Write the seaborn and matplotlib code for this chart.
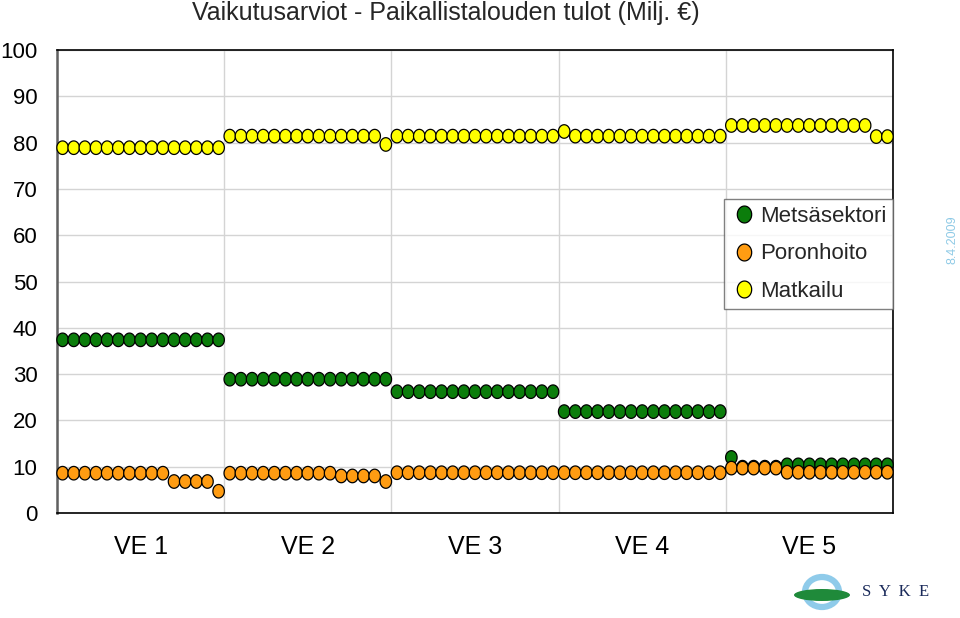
import numpy as np
import pandas as pd
import seaborn as sns
import matplotlib.pyplot as plt
from matplotlib.patches import Ellipse

# values, 15 points per scenario VE 1..VE 5
metsasektori = [
    37.4, 37.4, 37.4, 37.4, 37.4, 37.4, 37.4, 37.4, 37.4, 37.4, 37.4, 37.4, 37.4, 37.4, 37.4,
    28.9, 28.9, 28.9, 28.9, 28.9, 28.9, 28.9, 28.9, 28.9, 28.9, 28.9, 28.9, 28.9, 28.9, 28.9,
    26.2, 26.2, 26.2, 26.2, 26.2, 26.2, 26.2, 26.2, 26.2, 26.2, 26.2, 26.2, 26.2, 26.2, 26.2,
    21.9, 21.9, 21.9, 21.9, 21.9, 21.9, 21.9, 21.9, 21.9, 21.9, 21.9, 21.9, 21.9, 21.9, 21.9,
    12.0, 9.9, 9.9, 9.9, 9.9, 10.4, 10.4, 10.4, 10.4, 10.4, 10.4, 10.4, 10.4, 10.4, 10.4,
]
poronhoito = [
    8.6, 8.6, 8.6, 8.6, 8.6, 8.6, 8.6, 8.6, 8.6, 8.6, 6.8, 6.8, 6.8, 6.8, 4.7,
    8.6, 8.6, 8.6, 8.6, 8.6, 8.6, 8.6, 8.6, 8.6, 8.6, 8.0, 8.0, 8.0, 8.0, 6.8,
    8.7, 8.7, 8.7, 8.7, 8.7, 8.7, 8.7, 8.7, 8.7, 8.7, 8.7, 8.7, 8.7, 8.7, 8.7,
    8.7, 8.7, 8.7, 8.7, 8.7, 8.7, 8.7, 8.7, 8.7, 8.7, 8.7, 8.7, 8.7, 8.7, 8.7,
    9.7, 9.7, 9.7, 9.7, 9.7, 8.8, 8.8, 8.8, 8.8, 8.8, 8.8, 8.8, 8.8, 8.8, 8.8,
]
matkailu = [
    78.9, 78.9, 78.9, 78.9, 78.9, 78.9, 78.9, 78.9, 78.9, 78.9, 78.9, 78.9, 78.9, 78.9, 78.9,
    81.4, 81.4, 81.4, 81.4, 81.4, 81.4, 81.4, 81.4, 81.4, 81.4, 81.4, 81.4, 81.4, 81.4, 79.6,
    81.4, 81.4, 81.4, 81.4, 81.4, 81.4, 81.4, 81.4, 81.4, 81.4, 81.4, 81.4, 81.4, 81.4, 81.4,
    82.4, 81.4, 81.4, 81.4, 81.4, 81.4, 81.4, 81.4, 81.4, 81.4, 81.4, 81.4, 81.4, 81.4, 81.4,
    83.7, 83.7, 83.7, 83.7, 83.7, 83.7, 83.7, 83.7, 83.7, 83.7, 83.7, 83.7, 83.7, 81.3, 81.3,
]
series_names = ['Metsäsektori', 'Poronhoito', 'Matkailu']
scenarios = ['VE 1', 'VE 2', 'VE 3', 'VE 4', 'VE 5']
per_group = 15
colors = ['#0b7d0b', '#ff9c12', '#ffff00']

rows = []
for name, vals in zip(series_names, [metsasektori, poronhoito, matkailu]):
    for i, v in enumerate(vals):
        rows.append({'idx': i, 'arvo': v, 'sarja': name})
df = pd.DataFrame(rows)

sns.set_style('white')
plt.rcParams['font.family'] = ['Liberation Sans', 'DejaVu Sans']

fig = plt.figure(figsize=(9.6, 6.18), dpi=100)
ax = fig.add_axes([57 / 960, 1 - 513 / 618, 836 / 960, 463 / 618])

# slightly tall ellipse like the Excel markers
t = np.linspace(0, 2 * np.pi, 41)
ellipse = np.column_stack([0.85 * np.cos(t), np.sin(t)])

sns.scatterplot(data=df, x='idx', y='arvo', hue='sarja', palette=colors,
                hue_order=series_names, marker=ellipse, s=95,
                edgecolor='black', linewidth=0.9, ax=ax, zorder=3, clip_on=False)

n = len(matkailu)
ax.set_xlim(-0.5, n - 0.5)
ax.set_ylim(0, 100)
ax.set_yticks(np.arange(0, 101, 10))
bounds = np.arange(-0.5, n, per_group)
ax.set_xticks(bounds)
ax.set_xticklabels([])
ax.set_xticks(bounds[:-1] + per_group / 2, minor=True)
ax.set_xticklabels(scenarios, minor=True)
ax.tick_params(axis='x', which='minor', length=0, labelsize=18, pad=16, labelcolor='black')
ax.tick_params(axis='x', which='major', length=10, color='#c8c8c8', width=1)
ax.tick_params(axis='y', length=8, color='#c8c8c8', width=1, labelsize=16, pad=6,
               labelcolor='black')
ax.grid(True, which='major', color='#d4d4d4', linewidth=1)
ax.set_axisbelow(True)
ax.set_xlabel('')
ax.set_ylabel('')
for side in ['top', 'right', 'bottom']:
    ax.spines[side].set_color('black')
    ax.spines[side].set_linewidth(1.2)
ax.spines['left'].set_color('#606060')
ax.spines['left'].set_linewidth(1.8)

handles, labels = ax.get_legend_handles_labels()
leg = ax.legend(handles, labels, loc='upper right', bbox_to_anchor=(1.0, 0.678),
                fontsize=16, frameon=True, fancybox=False, edgecolor='#606060',
                borderpad=0.3, labelspacing=0.75, handletextpad=0.1,
                handlelength=1.2, markerscale=1.25, borderaxespad=0)
leg.get_frame().set_linewidth(1)

fig.text(446 / 960, 1 - 13 / 618, 'Vaikutusarviot - Paikallistalouden tulot (Milj. €)',
         ha='center', va='center', fontsize=18)
fig.text(953 / 960, 1 - 240 / 618, '8.4.2009', rotation=90, ha='center', va='center',
         fontsize=9, color='#8ecae6')

# SYKE logo
ring = Ellipse((822 / 960, 1 - 592 / 618), 34 / 960, 30 / 618, transform=fig.transFigure,
               facecolor='none', edgecolor='#8fcbea', linewidth=4.5)
hill = Ellipse((822 / 960, 1 - 595 / 618), 56 / 960, 12 / 618, transform=fig.transFigure,
               facecolor='#1f8a3a', edgecolor='none')
fig.add_artist(ring)
fig.add_artist(hill)
fig.text(896 / 960, 1 - 592 / 618, 'S  Y  K  E', ha='center', va='center',
         fontsize=12, family='Liberation Serif', color='#1a2a5a')

fig.savefig('out.png', dpi=100)
